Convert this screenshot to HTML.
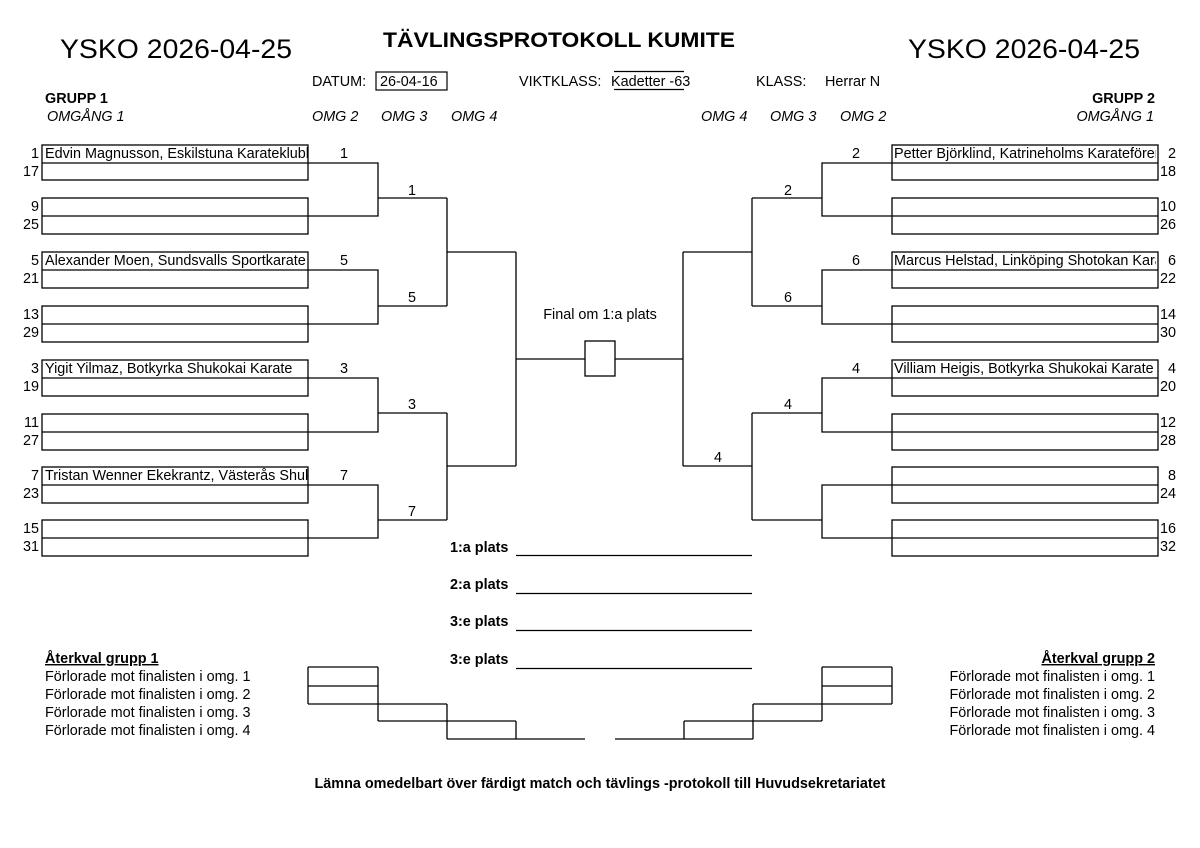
<!DOCTYPE html>
<html><head><meta charset="utf-8"><style>
html,body{margin:0;padding:0;background:#fff;}
svg{display:block;font-family:"Liberation Sans",Arial,sans-serif;}
text{font-size:14.4px;fill:#000;}
.b{font-weight:bold;}
.i{font-style:italic;}
</style></head><body>
<svg width="1200" height="848" viewBox="0 0 1200 848" xmlns="http://www.w3.org/2000/svg">
<defs>
<clipPath id="cl"><rect x="42" y="0" width="266" height="848"/></clipPath>
<clipPath id="cr"><rect x="892" y="0" width="264" height="848"/></clipPath>
</defs>
<!-- header -->
<text x="60" y="58" style="font-size:27px" textLength="232" lengthAdjust="spacingAndGlyphs">YSKO 2026-04-25</text>
<text x="908" y="58" style="font-size:27px" textLength="232" lengthAdjust="spacingAndGlyphs">YSKO 2026-04-25</text>
<text x="383" y="47" class="b" style="font-size:21px" textLength="352" lengthAdjust="spacingAndGlyphs">TÄVLINGSPROTOKOLL KUMITE</text>
<text x="312" y="86">DATUM:</text>
<rect x="376" y="72" width="71" height="18" fill="none" stroke="#000" stroke-width="1.2"/>
<text x="380" y="86">26-04-16</text>
<text x="519" y="86">VIKTKLASS:</text>
<line x1="614" y1="71.5" x2="684" y2="71.5" stroke="#000" stroke-width="1.2"/>
<line x1="614" y1="89.5" x2="684" y2="89.5" stroke="#000" stroke-width="1.2"/>
<text x="611" y="86">Kadetter -63</text>
<text x="756" y="86">KLASS:</text>
<text x="825" y="86">Herrar N</text>
<text x="45" y="103" class="b">GRUPP 1</text>
<text x="47" y="121" class="i">OMGÅNG 1</text>
<text x="1155" y="103" class="b" text-anchor="end">GRUPP 2</text>
<text x="1154" y="121" class="i" text-anchor="end">OMGÅNG 1</text>
<text x="312" y="121" class="i">OMG 2</text>
<text x="381" y="121" class="i">OMG 3</text>
<text x="451" y="121" class="i">OMG 4</text>
<text x="701" y="121" class="i">OMG 4</text>
<text x="770" y="121" class="i">OMG 3</text>
<text x="840" y="121" class="i">OMG 2</text>

<g fill="none" stroke="#000" stroke-width="1.3">
<rect x="42" y="145" width="266" height="35"/><line x1="42" y1="163" x2="308" y2="163"/>
<rect x="42" y="198" width="266" height="36"/><line x1="42" y1="216" x2="308" y2="216"/>
<rect x="42" y="252" width="266" height="36"/><line x1="42" y1="270" x2="308" y2="270"/>
<rect x="42" y="306" width="266" height="36"/><line x1="42" y1="324" x2="308" y2="324"/>
<rect x="42" y="360" width="266" height="36"/><line x1="42" y1="378" x2="308" y2="378"/>
<rect x="42" y="414" width="266" height="36"/><line x1="42" y1="432" x2="308" y2="432"/>
<rect x="42" y="467" width="266" height="36"/><line x1="42" y1="485" x2="308" y2="485"/>
<rect x="42" y="520" width="266" height="36"/><line x1="42" y1="538" x2="308" y2="538"/>
<rect x="892" y="145" width="266" height="35"/><line x1="892" y1="163" x2="1158" y2="163"/>
<rect x="892" y="198" width="266" height="36"/><line x1="892" y1="216" x2="1158" y2="216"/>
<rect x="892" y="252" width="266" height="36"/><line x1="892" y1="270" x2="1158" y2="270"/>
<rect x="892" y="306" width="266" height="36"/><line x1="892" y1="324" x2="1158" y2="324"/>
<rect x="892" y="360" width="266" height="36"/><line x1="892" y1="378" x2="1158" y2="378"/>
<rect x="892" y="414" width="266" height="36"/><line x1="892" y1="432" x2="1158" y2="432"/>
<rect x="892" y="467" width="266" height="36"/><line x1="892" y1="485" x2="1158" y2="485"/>
<rect x="892" y="520" width="266" height="36"/><line x1="892" y1="538" x2="1158" y2="538"/>
<path d="M308 163H378V216H308M378 198H447"/>
<path d="M308 270H378V324H308M378 306H447"/>
<path d="M308 378H378V432H308M378 413H447"/>
<path d="M308 485H378V538H308M378 520H447"/>
<path d="M447 198V306M447 252H516"/>
<path d="M447 413V520M447 466H516"/>
<path d="M516 252V466M516 359H585"/>
<rect x="585" y="341" width="30" height="35"/>
<path d="M615 359H683M683 252V466M683 252H752M683 466H752"/>
<path d="M892 163H822V216H892M822 198H752"/>
<path d="M892 270H822V324H892M822 306H752"/>
<path d="M892 378H822V432H892M822 413H752"/>
<path d="M892 485H822V538H892M822 520H752"/>
<path d="M752 198V306M752 413V520"/>
<line x1="516" y1="555.5" x2="752" y2="555.5"/>
<line x1="516" y1="593.5" x2="752" y2="593.5"/>
<line x1="516" y1="630.5" x2="752" y2="630.5"/>
<line x1="516" y1="668.5" x2="752" y2="668.5"/>
<path d="M308 667H378M308 686H378M308 704H447M308 667V704M378 667V721M378 721H516M447 704V739M447 739H585M516 721V739"/>
<path d="M892 667H822M892 686H822M892 704H753M892 667V704M822 667V721M822 721H684M753 704V739M753 739H615M684 721V739"/>
</g>

<g clip-path="url(#cl)">
<text x="45" y="158">Edvin Magnusson, Eskilstuna Karateklubb</text>
<text x="45" y="265">Alexander Moen, Sundsvalls Sportkarate</text>
<text x="45" y="373">Yigit Yilmaz, Botkyrka Shukokai Karate</text>
<text x="45" y="480">Tristan Wenner Ekekrantz, Västerås Shukokai Karate</text>
</g>
<g clip-path="url(#cr)">
<text x="894" y="158">Petter Björklind, Katrineholms Karateförening</text>
<text x="894" y="265">Marcus Helstad, Linköping Shotokan Karate</text>
<text x="894" y="373">Villiam Heigis, Botkyrka Shukokai Karate</text>
</g>

<g text-anchor="end">
<text x="39" y="158">1</text><text x="39" y="176">17</text>
<text x="39" y="211">9</text><text x="39" y="229">25</text>
<text x="39" y="265">5</text><text x="39" y="283">21</text>
<text x="39" y="319">13</text><text x="39" y="337">29</text>
<text x="39" y="373">3</text><text x="39" y="391">19</text>
<text x="39" y="427">11</text><text x="39" y="445">27</text>
<text x="39" y="480">7</text><text x="39" y="498">23</text>
<text x="39" y="533">15</text><text x="39" y="551">31</text>
</g>
<g text-anchor="end">
<text x="1176" y="158">2</text><text x="1176" y="176">18</text>
<text x="1176" y="211">10</text><text x="1176" y="229">26</text>
<text x="1176" y="265">6</text><text x="1176" y="283">22</text>
<text x="1176" y="319">14</text><text x="1176" y="337">30</text>
<text x="1176" y="373">4</text><text x="1176" y="391">20</text>
<text x="1176" y="427">12</text><text x="1176" y="445">28</text>
<text x="1176" y="480">8</text><text x="1176" y="498">24</text>
<text x="1176" y="533">16</text><text x="1176" y="551">32</text>
</g>

<g text-anchor="middle">
<text x="344" y="158">1</text><text x="344" y="265">5</text><text x="344" y="373">3</text><text x="344" y="480">7</text>
<text x="412" y="195">1</text><text x="412" y="302">5</text><text x="412" y="409">3</text><text x="412" y="516">7</text>
<text x="856" y="158">2</text><text x="856" y="265">6</text><text x="856" y="373">4</text>
<text x="788" y="195">2</text><text x="788" y="302">6</text><text x="788" y="409">4</text>
<text x="718" y="462">4</text>
<text x="600" y="319">Final om 1:a plats</text>
</g>

<text x="450" y="552" class="b">1:a plats</text>
<text x="450" y="589" class="b">2:a plats</text>
<text x="450" y="626" class="b">3:e plats</text>
<text x="450" y="664" class="b">3:e plats</text>

<text x="45" y="663" class="b" text-decoration="underline">Återkval grupp 1</text>
<text x="45" y="681">Förlorade mot finalisten i omg. 1</text>
<text x="45" y="699">Förlorade mot finalisten i omg. 2</text>
<text x="45" y="717">Förlorade mot finalisten i omg. 3</text>
<text x="45" y="735">Förlorade mot finalisten i omg. 4</text>
<g text-anchor="end">
<text x="1155" y="663" class="b" text-decoration="underline">Återkval grupp 2</text>
<text x="1155" y="681">Förlorade mot finalisten i omg. 1</text>
<text x="1155" y="699">Förlorade mot finalisten i omg. 2</text>
<text x="1155" y="717">Förlorade mot finalisten i omg. 3</text>
<text x="1155" y="735">Förlorade mot finalisten i omg. 4</text>
</g>

<text x="600" y="788" class="b" text-anchor="middle">Lämna omedelbart över färdigt match och tävlings -protokoll till Huvudsekretariatet</text>
</svg>
</body></html>
